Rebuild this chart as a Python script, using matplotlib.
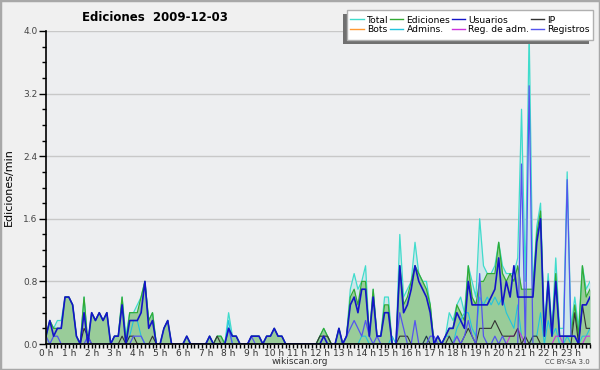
import numpy as np
import matplotlib
matplotlib.use("Agg")
import matplotlib.pyplot as plt
from matplotlib.lines import Line2D
from matplotlib.patches import Rectangle
from matplotlib.ticker import MultipleLocator, FormatStrFormatter

# edits per 10-minute slot, 2009-12-03 (6 slots per hour, one row per hour)
total = [
    1, 3, 2, 3, 3, 6,   6, 5, 1, 0, 6, 0,   4, 3, 4, 3, 4, 0,   1, 1, 6, 1, 4, 4,
    5, 6, 8, 3, 4, 0,   0, 2, 3, 0, 0, 0,   0, 1, 0, 0, 0, 0,   0, 1, 0, 1, 1, 0,
    4, 1, 1, 0, 0, 0,   1, 1, 1, 0, 1, 1,   2, 1, 1, 0, 0, 0,   0, 0, 0, 0, 0, 0,
    1, 2, 1, 0, 0, 2,   0, 1, 7, 9, 7, 8,  10, 1, 7, 1, 1, 6,   6, 0, 0, 14, 6, 7,
    8, 13, 9, 8, 8, 5,  0, 1, 0, 1, 4, 3,   5, 6, 4, 10, 8, 6,  16, 10, 9, 9, 10, 13,
    10, 9, 9, 9, 11, 30,  8, 40, 7, 15, 18, 2,  9, 2, 11, 2, 2, 22,  2, 6, 2, 10, 7, 8,
]
ediciones = [
    1, 3, 2, 2, 2, 6,   6, 5, 1, 0, 6, 0,   4, 3, 4, 3, 4, 0,   1, 1, 6, 0, 4, 4,
    4, 6, 8, 3, 4, 0,   0, 2, 3, 0, 0, 0,   0, 1, 0, 0, 0, 0,   0, 1, 0, 1, 1, 0,
    2, 1, 1, 0, 0, 0,   1, 1, 1, 0, 1, 1,   2, 1, 1, 0, 0, 0,   0, 0, 0, 0, 0, 0,
    1, 2, 1, 0, 0, 2,   0, 1, 6, 7, 5, 8,   8, 1, 7, 1, 1, 5,   5, 0, 0, 10, 5, 6,
    8, 10, 9, 8, 7, 5,  0, 1, 0, 1, 2, 2,   5, 4, 3, 10, 6, 5,  8, 8, 9, 9, 9, 13,
    9, 8, 9, 8, 10, 7,  7, 7, 7, 14, 17, 1,  8, 1, 9, 1, 1, 1,  1, 5, 1, 10, 6, 7,
]
usuarios = [
    1, 3, 1, 2, 2, 6,   6, 5, 1, 0, 4, 0,   4, 3, 4, 3, 4, 0,   1, 1, 5, 0, 3, 3,
    3, 4, 8, 2, 3, 0,   0, 2, 3, 0, 0, 0,   0, 1, 0, 0, 0, 0,   0, 1, 0, 0, 0, 0,
    2, 1, 1, 0, 0, 0,   1, 1, 1, 0, 1, 1,   2, 1, 1, 0, 0, 0,   0, 0, 0, 0, 0, 0,
    0, 1, 0, 0, 0, 2,   0, 1, 5, 6, 4, 7,   7, 1, 6, 1, 1, 4,   4, 0, 0, 10, 4, 5,
    7, 10, 8, 7, 6, 4,  0, 1, 0, 1, 2, 2,   4, 3, 2, 8, 5, 5,   5, 5, 5, 6, 7, 11,
    5, 8, 6, 10, 6, 6,  6, 6, 6, 13, 16, 1,  8, 1, 8, 1, 1, 1,  1, 1, 0, 5, 5, 6,
]
ip = [
    0, 0, 0, 0, 0, 0,   0, 0, 0, 0, 2, 1,   0, 0, 0, 0, 0, 0,   0, 0, 1, 0, 1, 1,
    0, 0, 0, 0, 1, 0,   0, 0, 0, 0, 0, 0,   0, 0, 0, 0, 0, 0,   0, 0, 0, 1, 0, 0,
    0, 0, 0, 0, 0, 0,   0, 0, 0, 0, 0, 0,   0, 0, 0, 0, 0, 0,   0, 0, 0, 0, 0, 0,
    1, 1, 1, 0, 0, 0,   0, 0, 0, 0, 0, 0,   0, 0, 0, 0, 0, 0,   0, 0, 0, 1, 1, 1,
    0, 0, 0, 0, 1, 0,   0, 0, 0, 0, 1, 0,   0, 0, 1, 2, 1, 0,   2, 2, 2, 2, 3, 2,
    1, 1, 1, 1, 2, 0,   1, 0, 1, 1, 0, 0,   0, 0, 0, 0, 0, 0,   0, 4, 0, 5, 2, 2,
]
bots = [0] * 144
admins = [
    0, 0, 0, 0, 0, 0,   0, 0, 0, 0, 0, 0,   0, 0, 0, 0, 0, 0,   0, 0, 0, 0, 1, 3,
    3, 1, 0, 0, 0, 0,   0, 0, 0, 0, 0, 0,   0, 0, 0, 0, 0, 0,   0, 0, 0, 0, 0, 0,
    3, 0, 0, 0, 0, 0,   0, 0, 0, 0, 0, 0,   0, 0, 0, 0, 0, 0,   0, 0, 0, 0, 0, 0,
    0, 0, 0, 0, 0, 0,   0, 0, 0, 0, 0, 1,   1, 0, 0, 0, 0, 0,   0, 1, 0, 0, 0, 0,
    0, 0, 0, 0, 1, 0,   0, 0, 0, 1, 1, 0,   2, 3, 4, 4, 2, 1,   6, 5, 6, 5, 6, 5,
    6, 4, 3, 2, 5, 1,   0, 0, 1, 1, 4, 0,   3, 1, 2, 0, 0, 1,   0, 0, 0, 1, 1, 2,
]
reg_adm = [
    0, 0, 0, 0, 0, 0,   0, 0, 0, 0, 0, 0,   0, 0, 0, 0, 0, 0,   0, 0, 0, 0, 0, 0,
    0, 0, 0, 0, 0, 0,   0, 0, 0, 0, 0, 0,   0, 0, 0, 0, 0, 0,   0, 0, 0, 0, 0, 0,
    0, 0, 0, 0, 0, 0,   0, 0, 0, 0, 0, 0,   0, 0, 0, 0, 0, 0,   0, 0, 0, 0, 0, 0,
    0, 0, 0, 0, 0, 0,   0, 0, 0, 0, 0, 0,   0, 0, 0, 0, 0, 0,   0, 0, 0, 0, 0, 0,
    0, 0, 0, 0, 0, 0,   0, 0, 0, 0, 0, 0,   1, 0, 0, 0, 0, 0,   0, 0, 0, 0, 0, 0,
    0, 0, 1, 1, 2, 1,   0, 0, 0, 0, 0, 0,   0, 0, 1, 1, 0, 0,   0, 0, 0, 0, 1, 1,
]
registros = [
    1, 0, 1, 1, 0, 0,   0, 0, 0, 0, 0, 1,   0, 0, 0, 0, 0, 0,   0, 0, 0, 0, 0, 1,
    1, 1, 0, 0, 0, 0,   0, 0, 0, 0, 0, 0,   0, 0, 0, 0, 0, 0,   0, 0, 0, 0, 0, 0,
    2, 0, 0, 0, 0, 0,   1, 0, 0, 0, 0, 0,   0, 0, 0, 0, 0, 0,   0, 0, 0, 0, 0, 0,
    0, 0, 0, 0, 0, 0,   0, 1, 2, 3, 2, 1,   3, 1, 0, 1, 0, 0,   0, 0, 0, 4, 2, 0,
    0, 3, 0, 0, 0, 1,   1, 0, 0, 0, 0, 0,   1, 0, 1, 3, 1, 0,   9, 1, 0, 0, 1, 0,
    1, 0, 0, 0, 0, 23,  0, 33, 0, 0, 0, 0,  0, 0, 0, 0, 0, 21,  1, 1, 0, 0, 0, 0,
]
hour_labels = ["%d h" % h for h in range(24)]

slots = np.arange(144)
per_min = lambda s: np.array(s) / 10.0

W, H = 600, 370
fig = plt.figure(figsize=(6, 3.7), dpi=100, facecolor="#f0f0f0")
ax = fig.add_axes([46 / W, 26 / H, 544 / W, 313 / H], facecolor="#edeef0")

ax.fill_between(slots, per_min(total), color="#cfe6ea", lw=0, zorder=1)
ax.fill_between(slots, per_min(ediciones), color="#99cc99", lw=0, zorder=1.1)

series = [
    ("Total", total, "#40dccc", 0.9),
    ("Bots", bots, "#ff9933", 0.8),
    ("Ediciones", ediciones, "#33aa33", 0.9),
    ("Admins.", admins, "#22c4dd", 0.8),
    ("Usuarios", usuarios, "#1414c8", 1.2),
    ("Reg. de adm.", reg_adm, "#cc33dd", 0.8),
    ("IP", ip, "#333333", 0.8),
    ("Registros", registros, "#5555ee", 0.9),
]
draw_order = ["Bots", "Total", "Ediciones", "Admins.", "Reg. de adm.", "IP", "Registros", "Usuarios"]
lookup = {s[0]: s for s in series}
for z, name in enumerate(draw_order):
    _, vals, col, lw = lookup[name]
    ax.plot(slots, per_min(vals), color=col, lw=lw, zorder=2 + z * 0.01)

ax.set_xlim(0, 143)
ax.set_ylim(0, 4.0)
ax.yaxis.set_major_locator(MultipleLocator(0.8))
ax.yaxis.set_minor_locator(MultipleLocator(0.2))
ax.yaxis.set_major_formatter(FormatStrFormatter("%.1f"))
ax.set_xticks(np.arange(0, 144, 6))
ax.set_xticklabels(hour_labels)
ax.xaxis.set_minor_locator(MultipleLocator(1))
ax.grid(axis="y", color="#c8c8c8", lw=1)
ax.set_axisbelow(True)
for s in ["top", "right"]:
    ax.spines[s].set_visible(False)
for s in ["left", "bottom"]:
    ax.spines[s].set_linewidth(1.2)
    ax.spines[s].set_zorder(5)
ax.tick_params(axis="y", which="major", length=5, width=1, labelsize=6.5,
               labelcolor="#444444", pad=1)
ax.tick_params(axis="y", which="minor", length=3, width=1)
ax.tick_params(axis="x", which="both", length=3, width=1)
ax.tick_params(axis="x", which="major", labelsize=6.5, labelcolor="#333333", pad=0.5)
ax.set_ylabel("Ediciones/min", fontsize=8, labelpad=7)

fig.text(0.258, 0.952, "Ediciones  2009-12-03", fontsize=8.5, fontweight="bold",
         ha="center", va="center")
fig.text(0.5, 0.024, "wikiscan.org", fontsize=6.5, ha="center", va="center", color="#333333")
fig.text(0.983, 0.022, "CC BY-SA 3.0", fontsize=5, ha="right", va="center", color="#444444")

# legend box with its shadow offset to the lower left
fig.patches.append(Rectangle((343 / W, 1 - 44 / H), 246 / W, 30 / H,
                             transform=fig.transFigure, facecolor="#707070",
                             edgecolor="none", zorder=8))
fig.patches.append(Rectangle((347 / W, 1 - 40 / H), 246 / W, 30 / H,
                             transform=fig.transFigure, facecolor="white",
                             edgecolor="#b0b0b0", lw=1, zorder=9))
handles = [Line2D([], [], color=c, lw=1) for _, _, c, _ in series]
labels = [n for n, _, _, _ in series]
leg = fig.legend(handles, labels, loc="center", mode="expand",
                 bbox_to_anchor=(349 / W, 1 - 40 / H, 242 / W, 30 / H),
                 ncol=4, fontsize=6.6, handlelength=1.5, handletextpad=0.35,
                 columnspacing=0.4, labelspacing=0.1, borderpad=0.1,
                 borderaxespad=0, frameon=False)
leg.set_zorder(10)

fig.patches.append(Rectangle((0, 0), 1, 1, transform=fig.transFigure, fill=False,
                             edgecolor="#a8a8a8", lw=2.5))

fig.savefig("out.png", dpi=100, facecolor=fig.get_facecolor())
